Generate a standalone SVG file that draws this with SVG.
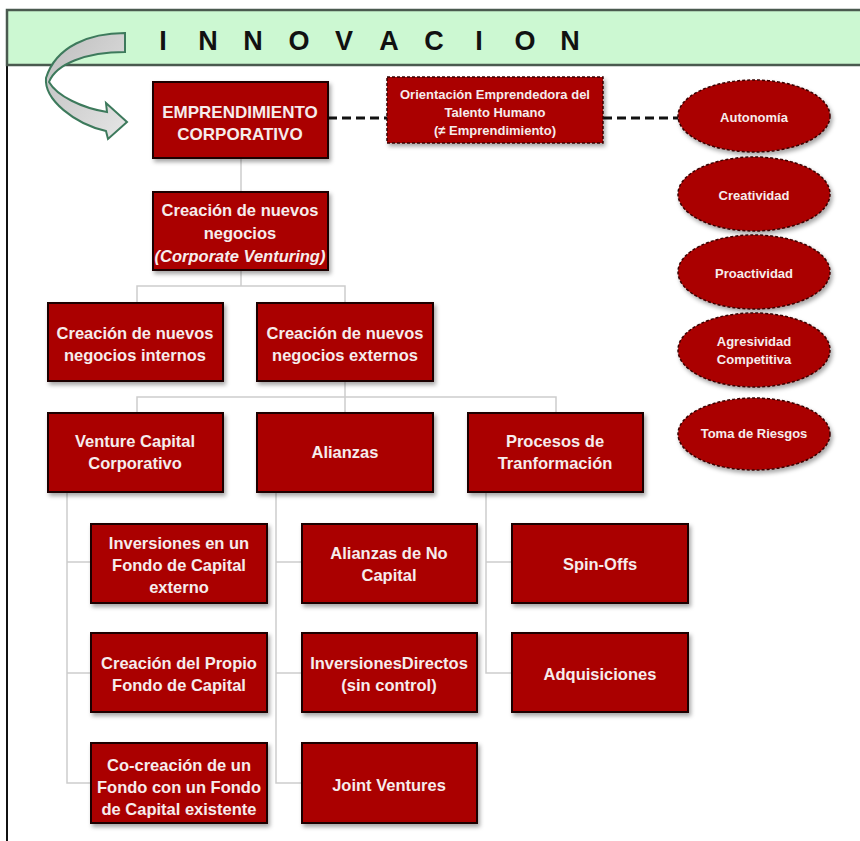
<svg xmlns="http://www.w3.org/2000/svg" width="860" height="841" viewBox="0 0 860 841">
<defs>
<filter id="sh" x="-10%" y="-10%" width="130%" height="140%">
<feDropShadow dx="2" dy="3" stdDeviation="2" flood-color="#000" flood-opacity="0.35"/>
</filter>
<linearGradient id="ag" x1="0" y1="0" x2="1" y2="1">
<stop offset="0" stop-color="#bdbdbd"/>
<stop offset="1" stop-color="#e6e6e6"/>
</linearGradient>
<style>
.box{fill:#aa0000;stroke:#1a0000;stroke-width:2;filter:url(#sh)}
.dbox{fill:#aa0000;stroke:#3a0000;stroke-width:1.5;stroke-dasharray:3 2;filter:url(#sh)}
.t{font-family:"Liberation Sans",Arial,sans-serif;font-weight:bold;fill:#f6ecec;text-anchor:middle;font-size:16.5px}
.ts{font-size:13px}
.c{fill:none;stroke:#cdcdcd;stroke-width:1.5}
.d{fill:none;stroke:#111;stroke-width:3;stroke-dasharray:9 5}
</style>
</defs>
<rect width="860" height="841" fill="#ffffff"/>
<!-- frame -->
<line x1="7" y1="10" x2="7" y2="841" stroke="#111" stroke-width="2"/>
<g id="header">
<rect x="7" y="10" width="870" height="55" fill="#ccf8d2" stroke="#4a5a4f" stroke-width="2.5"/>
<text x="163 208 253 299 344 389 434 479 525 570" y="50" font-family="Liberation Sans,Arial,sans-serif" font-weight="bold" font-size="27" fill="#111" text-anchor="middle">INNOVACION</text>
</g>
<g id="curved-arrow">
<path d="M125,33 C90,33 56,46 46,78 C44,100 75,124 106,131 L108,139 L127,122 L106,103 L107,112 C82,108 57,96 49,82 C56,64 86,52 125,52 Z" fill="url(#ag)" stroke="#3d7a5c" stroke-width="2"/>
</g>
<g id="connectors">
<line class="d" x1="328" y1="118" x2="387" y2="118"/>
<line class="d" x1="603" y1="118" x2="678" y2="118"/>
<path class="c" d="M241,158 V192"/>
<path class="c" d="M241,270 V286 M137,303 V286 H345 V303"/>
<path class="c" d="M345,381 V397 M137,413 V397 H556 V413 M345,397 V413"/>
<path class="c" d="M67,492 V783 H91 M67,562 H91 M67,673 H91"/>
<path class="c" d="M276,492 V783 H302 M276,562 H302 M276,673 H302"/>
<path class="c" d="M486,492 V673 H512 M486,562 H512"/>
</g>
<g id="emprendimiento">
<rect class="box" x="153" y="82" width="175" height="76"/>
<text class="t" font-size="17" style="font-size:17px"><tspan x="240" y="118">EMPRENDIMIENTO</tspan><tspan x="240" y="140">CORPORATIVO</tspan></text>
</g>
<g id="orientacion">
<rect class="dbox" x="387" y="77" width="216" height="66"/>
<text class="t ts"><tspan x="495" y="99">Orientación Emprendedora del</tspan><tspan x="495" y="117">Talento Humano</tspan><tspan x="495" y="135">(≠ Emprendimiento)</tspan></text>
</g>
<g id="autonomia">
<ellipse class="dbox" cx="754" cy="116" rx="76" ry="36"/>
<text class="t ts" x="754" y="122">Autonomía</text>
</g>
<g id="creatividad">
<ellipse class="dbox" cx="754" cy="194" rx="76" ry="37"/>
<text class="t ts" x="754" y="200">Creatividad</text>
</g>
<g id="proactividad">
<ellipse class="dbox" cx="754" cy="272" rx="76" ry="37"/>
<text class="t ts" x="754" y="278">Proactividad</text>
</g>
<g id="agresividad">
<ellipse class="dbox" cx="754" cy="350" rx="76" ry="37"/>
<text class="t ts"><tspan x="754" y="346">Agresividad</tspan><tspan x="754" y="364">Competitiva</tspan></text>
</g>
<g id="riesgos">
<ellipse class="dbox" cx="754" cy="434" rx="76" ry="36"/>
<text class="t ts" x="754" y="438">Toma de Riesgos</text>
</g>
<g id="corporate-venturing">
<rect class="box" x="153" y="192" width="175" height="78"/>
<text class="t"><tspan x="240" y="216">Creación de nuevos</tspan><tspan x="240" y="239">negocios</tspan><tspan x="240" y="262" font-style="italic">(Corporate Venturing)</tspan></text>
</g>
<g id="internos">
<rect class="box" x="48" y="303" width="175" height="78"/>
<text class="t"><tspan x="135" y="339">Creación de nuevos</tspan><tspan x="135" y="361">negocios internos</tspan></text>
</g>
<g id="externos">
<rect class="box" x="257" y="303" width="176" height="78"/>
<text class="t"><tspan x="345" y="339">Creación de nuevos</tspan><tspan x="345" y="361">negocios externos</tspan></text>
</g>
<g id="venture-capital">
<rect class="box" x="48" y="413" width="175" height="79"/>
<text class="t"><tspan x="135" y="447">Venture Capital</tspan><tspan x="135" y="469">Corporativo</tspan></text>
</g>
<g id="alianzas">
<rect class="box" x="257" y="413" width="176" height="79"/>
<text class="t" x="345" y="458">Alianzas</text>
</g>
<g id="procesos">
<rect class="box" x="468" y="413" width="175" height="79"/>
<text class="t"><tspan x="555" y="447">Procesos de</tspan><tspan x="555" y="469">Tranformación</tspan></text>
</g>
<g id="inversiones-fondo">
<rect class="box" x="91" y="524" width="176" height="79"/>
<text class="t"><tspan x="179" y="549">Inversiones en un</tspan><tspan x="179" y="571">Fondo de Capital</tspan><tspan x="179" y="593">externo</tspan></text>
</g>
<g id="propio-fondo">
<rect class="box" x="91" y="633" width="176" height="79"/>
<text class="t"><tspan x="179" y="669">Creación del Propio</tspan><tspan x="179" y="691">Fondo de Capital</tspan></text>
</g>
<g id="co-creacion">
<rect class="box" x="91" y="743" width="176" height="80"/>
<text class="t"><tspan x="179" y="771">Co-creación de un</tspan><tspan x="179" y="793">Fondo con un Fondo</tspan><tspan x="179" y="815">de Capital existente</tspan></text>
</g>
<g id="alianzas-no-capital">
<rect class="box" x="302" y="524" width="175" height="79"/>
<text class="t"><tspan x="389" y="559">Alianzas de No</tspan><tspan x="389" y="581">Capital</tspan></text>
</g>
<g id="inversiones-directos">
<rect class="box" x="302" y="633" width="175" height="79"/>
<text class="t"><tspan x="389" y="669">InversionesDirectos</tspan><tspan x="389" y="691">(sin control)</tspan></text>
</g>
<g id="joint-ventures">
<rect class="box" x="302" y="743" width="175" height="80"/>
<text class="t" x="389" y="791">Joint Ventures</text>
</g>
<g id="spin-offs">
<rect class="box" x="512" y="524" width="176" height="79"/>
<text class="t" x="600" y="570">Spin-Offs</text>
</g>
<g id="adquisiciones">
<rect class="box" x="512" y="633" width="176" height="79"/>
<text class="t" x="600" y="680">Adquisiciones</text>
</g>
</svg>
